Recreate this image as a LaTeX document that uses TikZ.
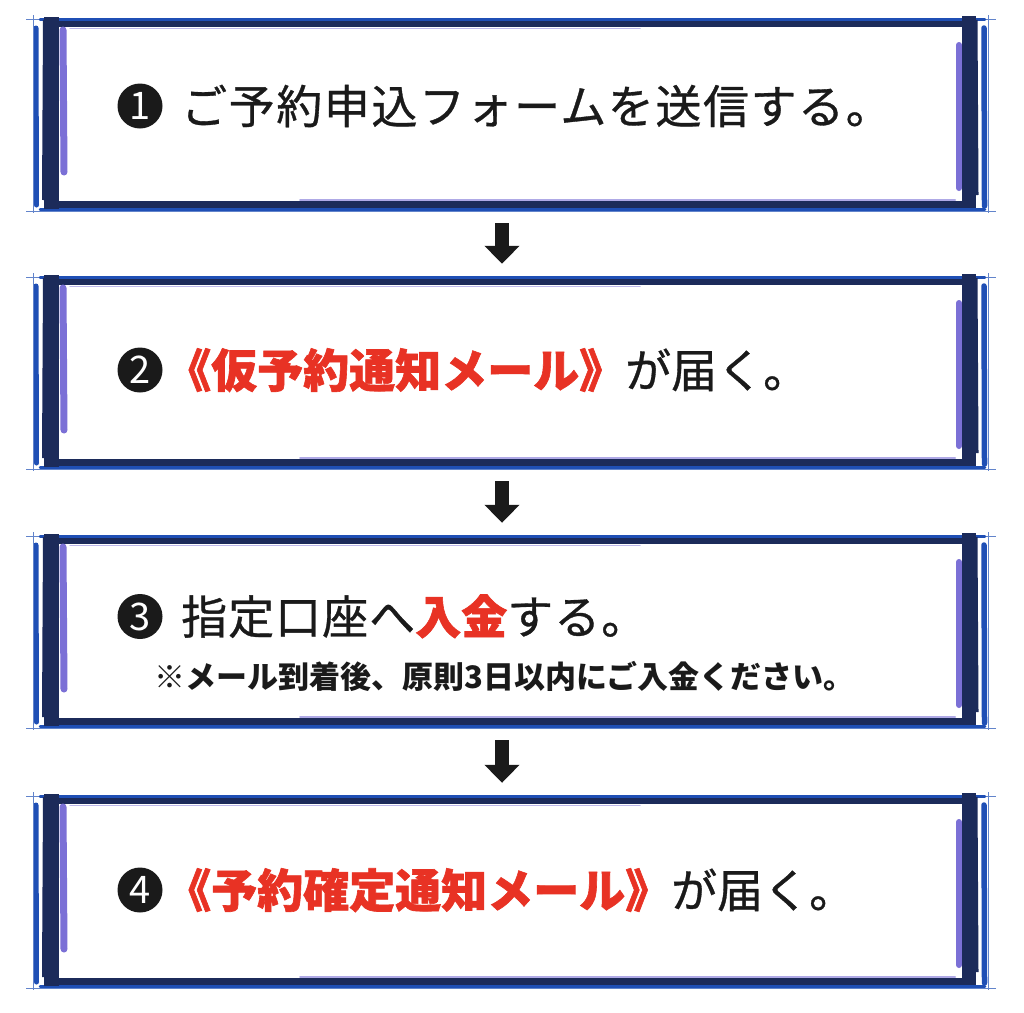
\documentclass[tikz,border=0pt]{standalone}
\usepackage{fontspec}
\newfontfamily\jp{Noto Sans CJK JP}
\newfontfamily\jpm[FakeBold=0.7]{Noto Sans CJK JP}
\newfontfamily\jpred[BoldFeatures={FakeBold=1.3}]{Noto Sans CJK JP}
\usetikzlibrary{arrows.meta}
\definecolor{navy}{HTML}{1C2B5A}
\definecolor{bblue}{HTML}{1F4FB5}
\definecolor{purp}{HTML}{7B70D6}
\definecolor{redtxt}{HTML}{E83224}
\definecolor{ink}{HTML}{1A1A1A}
\newcommand{\redtxt}[1]{{\color{redtxt}\jpred\bfseries #1}}
\begin{document}
\begin{tikzpicture}[x=1pt,y=-1pt,
  boxnode/.style={minimum width=950pt,minimum height=192pt,inner sep=0pt},
  bluestroke/.style={draw=bblue,line cap=round},
  navystroke/.style={draw=navy,line cap=butt},
  purpstroke/.style={draw=purp,line cap=round},
  thinline/.style={draw=bblue!70,line width=1pt},
  numcircle/.style={circle,fill=ink,text=white,minimum size=45pt,inner sep=0pt,font=\jp\fontsize{38}{38}\selectfont},
  maintext/.style={anchor=base west,inner sep=0pt,text=ink,font=\jpm\fontsize{46}{46}\selectfont},
  subtext/.style={anchor=base west,inner sep=0pt,text=ink,font=\jp\bfseries\fontsize{31}{31}\selectfont},
  flowarrow/.style={draw=ink,line width=14pt,-{Triangle[width=34pt,length=18pt]},shorten <=12pt,shorten >=13pt}
]
\useasboundingbox[fill=white] (0,0) rectangle (1024,1012);
\foreach \o/\n in {0/1,258/2,517/3,777/4}{
 \begin{scope}[shift={(0,\o)}]
  \node[boxnode] (box\n) at (510,115) {};
  % top edge
  \draw[thinline] (26,19) -- (996,19);
  \draw[bluestroke,line width=2.5pt] (40,19.5) -- (985,19.5);
  \draw[navystroke,line width=6pt] (45,24) -- (976,24);
  \draw[purpstroke,line width=1.5pt,opacity=.5] (70,28.5) -- (640,28.5);
  % bottom edge
  \draw[purpstroke,line width=2pt,opacity=.6] (300,199.5) -- (955,199.5);
  \draw[navystroke,line width=7pt] (45,204) -- (976,204);
  \draw[bluestroke,line width=2.5pt] (40,209.5) -- (985,209.5);
  \draw[thinline] (26,211) -- (996,211);
  % left edge
  \draw[bluestroke,line width=5pt] (36,28) -- (36.5,205);
  \draw[thinline] (33,15) -- (33,213);
  \draw[navystroke,line width=15pt] (51,17) -- (51,209);
  \draw[navystroke,line width=4pt] (45,20) -- (44,200);
  \draw[purpstroke,line width=7pt] (63,30) -- (64,172);
  % right edge
  \draw[purpstroke,line width=6pt] (959,45) -- (959,188);
  \draw[navystroke,line width=14pt] (969,16) -- (969,208);
  \draw[navystroke,line width=3pt] (976,20) -- (977,195);
  \draw[bluestroke,line width=5.5pt] (984,28) -- (984.5,206);
  \draw[thinline] (988,15) -- (988,213);
 \end{scope}
}
% step 1
\node[numcircle] (n1) at (140,106) {1};
\node[maintext] (t1) at (181,123.5) {\addfontfeature{LetterSpace=3.4}ご予約申込フォームを送信する。};
% step 2
\node[numcircle] (n2) at (140,370) {2};
\node[maintext] (t2) at (165,387.5) {\redtxt{《仮予約通知メール》}が届く。};
% step 3
\node[numcircle] (n3) at (140,616.5) {3};
\node[maintext] (t3) at (181,634) {\addfontfeature{LetterSpace=2.2}指定口座へ\redtxt{入金}する。};
\node[subtext] (s3) at (154,688.5) {※メール到着後、原則3日以内にご入金ください。};
% step 4
\node[numcircle] (n4) at (140,890) {4};
\node[maintext] (t4) at (165,907.5) {\redtxt{《予約確定通知メール》}が届く。};
% arrows
\draw[flowarrow] ([xshift=-8pt]box1.south) -- ([xshift=-8pt]box2.north);
\draw[flowarrow] ([xshift=-8pt]box2.south) -- ([xshift=-8pt]box3.north);
\draw[flowarrow] ([xshift=-8pt]box3.south) -- ([xshift=-8pt]box4.north);
\end{tikzpicture}
\end{document}
